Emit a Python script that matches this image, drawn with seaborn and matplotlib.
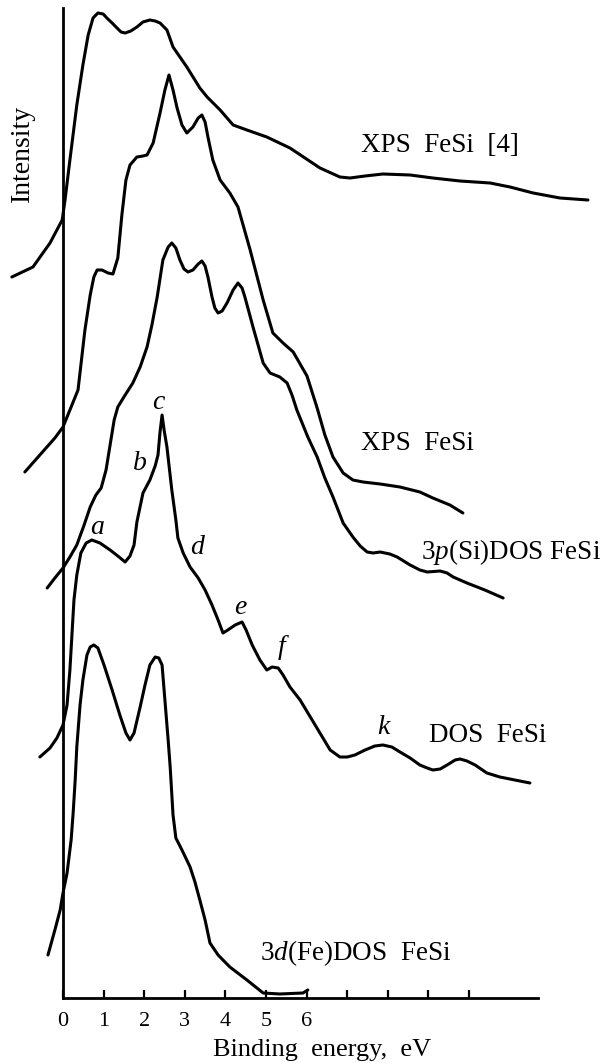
import matplotlib
matplotlib.use("Agg")
import matplotlib.pyplot as plt
import pandas as pd
import seaborn as sns

# ---- spectra: binding energy (eV) and intensity (arb. units) ----
xps_ref_energy = [-1.26, -0.74, -0.32, -0.02, 0.05, 0.17, 0.34, 0.49, 0.62, 0.74,
                  0.86, 0.99, 1.08, 1.21, 1.33, 1.43, 1.53, 1.67, 1.82, 1.97,
                  2.14, 2.27, 2.39, 2.56, 2.71, 2.88, 3.05, 3.37, 3.55, 3.87,
                  4.19, 4.53, 5.02, 5.59, 6.33, 6.82, 7.07, 7.44, 7.88, 8.55,
                  9.11, 9.78, 10.52, 11.01, 11.58, 12.24, 12.93]
xps_ref_intensity = [1, 11, 35, 58, 78, 118, 173, 213, 243, 260,
                     265, 264, 260, 255, 250, 246, 245, 247, 251, 256,
                     258, 257, 255, 248, 231, 221, 211, 190, 181, 168,
                     153, 148, 141, 130, 110, 101, 100, 102, 104, 103,
                     100, 97, 95, 91, 85, 80, 78]

xps_energy = [-0.94, -0.57, -0.20, 0.00, 0.17, 0.37, 0.54, 0.67, 0.76, 0.84,
              0.96, 1.11, 1.23, 1.35, 1.45, 1.55, 1.65, 1.82, 1.97, 2.07,
              2.22, 2.39, 2.51, 2.61, 2.71, 2.81, 2.93, 3.05, 3.20, 3.33,
              3.42, 3.50, 3.57, 3.69, 3.87, 4.11, 4.31, 4.61, 4.93, 5.17,
              5.42, 5.67, 6.01, 6.26, 6.45, 6.65, 6.90, 7.14, 7.39, 7.81,
              8.30, 8.79, 9.11, 9.53, 9.85]
xps_intensity = [46, 63, 80, 91, 108, 128, 188, 223, 241, 248,
                 248, 245, 244, 260, 303, 338, 353, 361, 362, 363,
                 375, 405, 428, 443, 428, 410, 393, 385, 391, 400,
                 403, 396, 381, 358, 338, 325, 311, 268, 218, 185,
                 175, 166, 142, 110, 83, 61, 45, 38, 36, 34,
                 31, 26, 20, 13, 5]

p_si_energy = [-0.39, -0.20, 0.00, 0.17, 0.34, 0.52, 0.67, 0.81, 0.94, 1.06,
               1.16, 1.26, 1.35, 1.50, 1.72, 1.90, 2.07, 2.19, 2.32, 2.46,
               2.59, 2.68, 2.78, 2.88, 2.98, 3.08, 3.20, 3.33, 3.42, 3.50,
               3.57, 3.67, 3.74, 3.82, 3.92, 4.04, 4.19, 4.31, 4.41, 4.48,
               4.68, 4.93, 5.10, 5.34, 5.52, 5.64, 5.76, 6.03, 6.26, 6.45,
               6.65, 6.90, 7.14, 7.32, 7.49, 7.64, 7.81, 8.05, 8.23, 8.55,
               8.79, 8.97, 9.29, 9.46, 9.61, 9.95, 10.39, 10.84]
p_si_intensity = [20, 30, 40, 51, 63, 83, 101, 113, 120, 138,
                  163, 188, 201, 211, 225, 241, 261, 283, 311, 348,
                  361, 365, 360, 348, 339, 336, 338, 344, 347, 342,
                  331, 311, 300, 295, 297, 305, 318, 325, 320, 311,
                  281, 245, 235, 231, 225, 213, 198, 171, 151, 130,
                  111, 85, 71, 62, 56, 55, 56, 54, 51, 43,
                  38, 36, 37, 35, 31, 25, 18, 10]

dos_energy = [-0.57, -0.32, -0.15, 0.00, 0.10, 0.17, 0.22, 0.27, 0.34, 0.44,
              0.57, 0.71, 0.91, 1.16, 1.35, 1.53, 1.65, 1.75, 1.82, 1.97,
              2.14, 2.27, 2.34, 2.39, 2.44, 2.49, 2.56, 2.68, 2.78, 2.83,
              2.96, 3.13, 3.33, 3.50, 3.67, 3.82, 3.94, 4.06, 4.24, 4.41,
              4.51, 4.66, 4.85, 5.02, 5.15, 5.30, 5.42, 5.59, 5.84, 6.21,
              6.58, 6.82, 7.00, 7.19, 7.44, 7.68, 7.88, 8.10, 8.30, 8.55,
              8.79, 8.97, 9.11, 9.29, 9.46, 9.66, 9.78, 9.95, 10.15, 10.44,
              10.76, 11.13, 11.50]
dos_intensity = [41, 50, 60, 73, 93, 128, 163, 198, 223, 245,
                 255, 258, 255, 248, 242, 236, 242, 253, 276, 305,
                 318, 332, 343, 366, 383, 368, 351, 308, 278, 260,
                 245, 231, 220, 208, 193, 178, 165, 168, 173, 176,
                 168, 153, 138, 128, 131, 130, 123, 111, 98, 73,
                 48, 41, 41, 43, 48, 52, 53, 51, 46, 40,
                 33, 30, 28, 29, 33, 38, 39, 37, 33, 25,
                 21, 18, 15]

d_fe_energy = [-0.37, -0.20, -0.07, 0.00, 0.10, 0.20, 0.25, 0.30, 0.34, 0.42,
               0.49, 0.59, 0.67, 0.76, 0.86, 1.01, 1.21, 1.40, 1.55, 1.65,
               1.75, 1.90, 2.02, 2.14, 2.27, 2.36, 2.44, 2.51, 2.59, 2.64,
               2.71, 2.78, 2.93, 3.13, 3.25, 3.37, 3.50, 3.62, 3.82, 4.11,
               4.53, 4.93, 5.34, 5.91, 6.03]
d_fe_intensity = [43, 68, 88, 105, 125, 158, 185, 218, 251, 293,
                  318, 343, 351, 353, 350, 333, 308, 283, 265, 258,
                  265, 291, 313, 333, 341, 340, 333, 298, 258, 231,
                  183, 160, 148, 131, 116, 98, 78, 55, 43, 31,
                  18, 5, 4, 5, 8]

# vertical stacking of the spectra
stack_offset = {"xps_ref": 720, "xps": 480, "p_si": 390, "dos": 200, "d_fe": 0}

spectra = [
    ("xps_ref", xps_ref_energy, xps_ref_intensity),
    ("xps", xps_energy, xps_intensity),
    ("p_si", p_si_energy, p_si_intensity),
    ("dos", dos_energy, dos_intensity),
    ("d_fe", d_fe_energy, d_fe_intensity),
]

tick_values = list(range(0, 11))
tick_labels = ["0", "1", "2", "3", "4", "5", "6", "", "", "", ""]

sns.set_theme(style="white")
plt.rcParams["font.family"] = ["Liberation Serif", "DejaVu Serif"]
plt.rcParams["mathtext.fontset"] = "custom"
plt.rcParams["mathtext.rm"] = "Liberation Serif"
plt.rcParams["mathtext.it"] = "Liberation Serif:italic"

W, H = 605, 1063
fig = plt.figure(figsize=(W / 100, H / 100), dpi=100)
fig.patch.set_facecolor("white")

x0, x1, y_top, y_axis = 63, 538, 8, 998
px_per_ev = 40.6
ax = fig.add_axes([x0 / W, (H - y_axis) / H, (x1 - x0) / W, (y_axis - y_top) / H])
ax.set_facecolor("none")

for name, en, inten in spectra:
    df = pd.DataFrame({"energy": en,
                       "intensity": [v + stack_offset[name] for v in inten]})
    sns.lineplot(data=df, x="energy", y="intensity", ax=ax, sort=False,
                 estimator=None, color="black", linewidth=2.2, clip_on=False,
                 solid_joinstyle="round", solid_capstyle="round")

ax.set_xlim(0, (x1 - x0) / px_per_ev)
ax.set_ylim(0, y_axis - y_top)
ax.set_xlabel("")
ax.set_ylabel("")
for side in ("top", "right"):
    ax.spines[side].set_visible(False)
for side in ("left", "bottom"):
    ax.spines[side].set_color("black")
    ax.spines[side].set_linewidth(2.0)
ax.set_yticks([])
ax.set_xticks(tick_values)
ax.set_xticklabels(tick_labels)
ax.tick_params(axis="x", direction="in", length=6, width=1.6, color="black",
               pad=10, labelsize=16, labelcolor="black", bottom=True)


def put(px, py, s, **kw):
    fig.text(px / W, 1 - py / H, s, ha="center", va="center", color="black", **kw)


put(22, 153, "Intensity", fontsize=20, rotation=90)
put(322, 1050, "Binding  energy,  eV", fontsize=19)

put(440, 145, "XPS  FeSi  [4]", fontsize=19.5)
put(417, 443, "XPS  FeSi", fontsize=19.5)
put(511, 552, r"3$p$(Si)DOS FeSi", fontsize=19.5)
put(488, 735, "DOS  FeSi", fontsize=19.5)
put(356, 953, r"3$d$(Fe)DOS  FeSi", fontsize=19.5)

for letter, lx, ly in [("a", 97, 527), ("b", 140, 463), ("c", 158, 402),
                       ("d", 197, 548), ("e", 240, 607), ("f", 282, 648),
                       ("k", 383, 728)]:
    put(lx, ly, letter, fontsize=20, style="italic")

fig.savefig("out.png", dpi=100, facecolor="white")
